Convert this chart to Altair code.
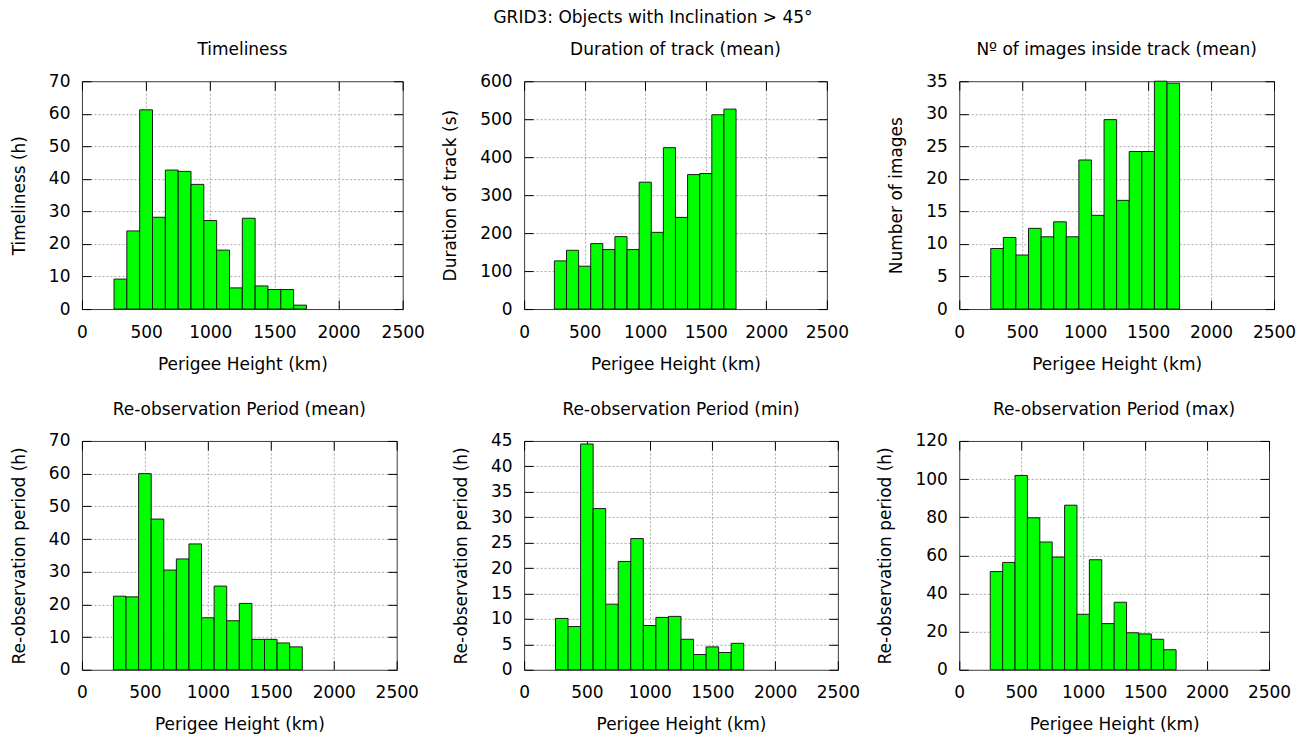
import altair as alt
import pandas as pd

# Bin centres of perigee height (km), bin width 100 km
centers = [300, 400, 500, 600, 700, 800, 900, 1000, 1100, 1200, 1300, 1400, 1500, 1600, 1700]
BIN_HALF = 50

timeliness = [9.2, 24.0, 61.2, 28.2, 42.7, 42.3, 38.3, 27.2, 18.1, 6.5, 27.9, 7.1, 6.0, 6.0, 1.2]
duration = [126.8, 154.8, 112.8, 172.3, 156.6, 190.7, 156.6, 334.1, 202.0, 425.0, 241.4, 354.2, 356.9, 511.7, 526.5]
n_images = [9.3, 11.0, 8.3, 12.4, 11.1, 13.4, 11.1, 22.9, 14.4, 29.1, 16.7, 24.2, 24.2, 35.0, 34.7]
reobs_mean = [22.5, 22.3, 60.0, 46.1, 30.5, 33.9, 38.5, 15.9, 25.6, 15.0, 20.3, 9.3, 9.3, 8.2, 7.0]
reobs_min = [10.1, 8.5, 44.4, 31.7, 12.9, 21.3, 25.8, 8.7, 10.3, 10.5, 6.0, 3.0, 4.5, 3.4, 5.2]
reobs_max = [51.5, 56.3, 101.9, 79.7, 67.0, 59.1, 86.3, 29.1, 57.7, 24.2, 35.4, 19.4, 18.8, 16.0, 10.5]

x_ticks = [0, 500, 1000, 1500, 2000, 2500]
X_MAX = 2500
x_title = "Perigee Height (km)"
main_title = "GRID3: Objects with Inclination > 45°"

FONT = "DejaVu Sans"
FS = 17
TICK_IN = {"expr": "-9"}
GRID = dict(grid=True, gridDash=[2, 2], gridColor="#a8a8a8", gridWidth=1)
TXT = dict(labelFont=FONT, titleFont=FONT, labelFontSize=FS, titleFontSize=FS,
           titleFontWeight="normal", labelColor="#000", titleColor="#000")


def panel(vals, ymax, ystep, ytitle, title, width, height):
    df = pd.DataFrame({"h": centers, "v": vals})
    base = alt.Chart(df).transform_calculate(
        lo=f"datum.h - {BIN_HALF}", hi=f"datum.h + {BIN_HALF}"
    )
    xs = alt.Scale(domain=[0, X_MAX], nice=False, zero=False, padding=0)
    ys = alt.Scale(domain=[0, ymax], nice=False, padding=0)
    y_ticks = list(range(0, ymax + 1, ystep))
    grid_x = {"condition": {"test": f"datum.value <= 0 || datum.value >= {X_MAX}", "value": 0}, "value": 1}
    grid_y = {"condition": {"test": f"datum.value <= 0 || datum.value >= {ymax}", "value": 0}, "value": 1}

    bars = base.mark_bar(fill="#00ff00", stroke="#1a1a1a", strokeWidth=1, orient="vertical").encode(
        x=alt.X(
            "lo:Q",
            scale=xs,
            axis=alt.Axis(
                values=x_ticks, title=x_title, gridOpacity=grid_x, tickSize=TICK_IN,
                tickColor="#000", tickWidth=1, domain=False, labelPadding=24, titlePadding=16,
                format="d", labelFlush=False, labelOverlap=False, **GRID, **TXT,
            ),
        ),
        x2="hi:Q",
        y=alt.Y(
            "v:Q",
            scale=ys,
            axis=alt.Axis(
                values=y_ticks, title=ytitle, gridOpacity=grid_y, tickSize=TICK_IN,
                tickColor="#000", tickWidth=1, domain=False, labelPadding=21, titlePadding=20,
                format="d", labelFlush=False, labelOverlap=False, minExtent=0, **GRID, **TXT,
            ),
        ),
        y2=alt.datum(0),
    )
    mirror = base.mark_bar(opacity=0, orient="vertical").encode(
        x=alt.X(
            "lo:Q", scale=xs,
            axis=alt.Axis(orient="top", values=x_ticks, labels=False, title="",
                          grid=False, tickSize=TICK_IN, tickColor="#000", domain=False),
        ),
        x2="hi:Q",
        y=alt.Y(
            "v:Q", scale=ys,
            axis=alt.Axis(orient="right", values=y_ticks, labels=False, title="",
                          grid=False, tickSize=TICK_IN, tickColor="#000", domain=False),
        ),
        y2=alt.datum(0),
    )
    return (
        alt.layer(bars, mirror)
        .resolve_axis(x="independent", y="independent")
        .properties(
            width=width, height=height,
            title=alt.TitleParams(title, fontSize=FS, fontWeight="normal", font=FONT,
                                  anchor="middle", offset=13, color="#000"),
        )
    )


panels = [
    panel(timeliness, 70, 10, "Timeliness (h)", "Timeliness", 321, 228),
    panel(duration, 600, 100, "Duration of track (s)", "Duration of track (mean)", 303, 228),
    panel(n_images, 35, 5, "Number of images", "Nº of images inside track (mean)", 315, 228),
    panel(reobs_mean, 70, 10, "Re-observation period (h)", "Re-observation Period (mean)", 315, 229),
    panel(reobs_min, 45, 5, "Re-observation period (h)", "Re-observation Period (min)", 314, 229),
    panel(reobs_max, 120, 20, "Re-observation period (h)", "Re-observation Period (max)", 310, 229),
]

chart = (
    alt.concat(*panels, columns=3, spacing={"row": 132, "column": 121.5},
               bounds="flush", align="none")
    .properties(
        title=alt.TitleParams(main_title, fontSize=FS, fontWeight="normal", font=FONT,
                              anchor="middle", offset=14, color="#000"),
        padding={"left": 1, "top": 0, "right": 0, "bottom": 0},
    )
    .configure(font=FONT)
    .configure_view(stroke="#3a3a3a", strokeWidth=1)
)

chart.save("out.html", embed_options={"renderer": "svg", "actions": False})
